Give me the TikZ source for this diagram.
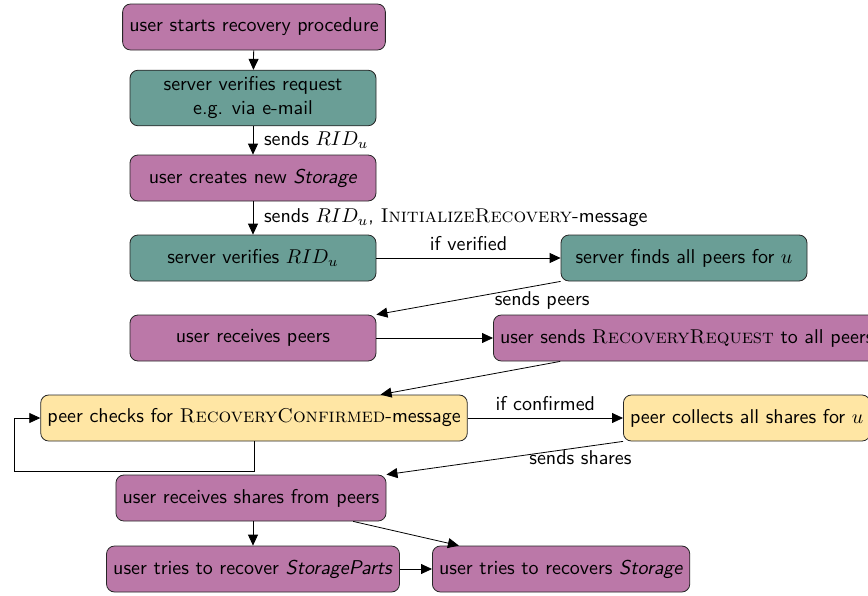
\documentclass[tikz,border=0pt]{standalone}
\usetikzlibrary{arrows.meta}
\definecolor{upurple}{RGB}{187,120,168}
\definecolor{uteal}{RGB}{106,158,150}
\definecolor{uyellow}{RGB}{255,230,164}
\tikzset{
  box/.style={draw=black!85, rounded corners=4pt, minimum width=123pt, minimum height=23pt,
    align=center, font=\sffamily, inner sep=3.33pt},
  ubox/.style={box, fill=upurple},
  sbox/.style={box, fill=uteal},
  pbox/.style={box, fill=uyellow},
  arr/.style={-{Triangle[length=5.5pt,width=5pt]}, draw=black},
  lbl/.style={font=\sffamily}
}
\begin{document}
\begin{tikzpicture}[x=0.5pt,y=-0.5pt]
\useasboundingbox (0,0) rectangle (868,595);
\node[ubox] (b1) at (254,27) {user starts recovery procedure};
\node[sbox] (b2) at (253,98) {server verifies request\\e.g. via e-mail};
\node[ubox] (b3) at (253,178) {user creates new \textit{Storage}};
\node[sbox] (b4) at (253,258) {server verifies $RID_u$};
\node[sbox] (b5) at (684,258) {server finds all peers for $u$};
\node[ubox] (b6) at (253,338) {user receives peers};
\node[ubox, anchor=west] (b7) at (493,338) {user sends {\rmfamily\scshape RecoveryRequest} to all peers};
\node[pbox] (b8) at (254,418) {peer checks for {\rmfamily\scshape RecoveryConfirmed}-message};
\node[pbox, anchor=west] (b9) at (623,418) {peer collects all shares for $u$};
\node[ubox] (b10) at (251,498) {user receives shares from peers};
\node[ubox] (b11) at (253,569) {user tries to recover \textit{StorageParts}};
\node[ubox, anchor=west] (b12) at (432,569) {user tries to recovers \textit{Storage}};
\coordinate (lp) at (14,471);

\draw[arr] (b1) -- (b2);
\draw[arr] (b2) -- node[lbl, right, xshift=2pt] {sends $RID_u$} (b3);
\draw[arr] (b3) -- node[lbl, right, xshift=2pt] {sends $RID_u$, {\rmfamily\scshape InitializeRecovery}-message} (b4);
\draw[arr] (b4) -- node[lbl, above] {if verified} (b5);
\draw[arr] (b5.south west) -- node[lbl, below, pos=0.1] {sends peers} (b6.north east);
\draw[arr] (b6) -- (b7);
\draw[arr] (b7) -- (b8);
\draw[arr] (b8) -- node[lbl, above] {if confirmed} (b9);
\draw[arr] (b8.south) |- (lp) |- (b8.west);
\draw[arr] (b9.south west) -- node[lbl, below, pos=0.18, yshift=2pt] {sends shares} (b10.north east);
\draw[arr] (b10.south -| b11) -- (b11.north);
\draw[arr] (b10) -- (b12);
\draw[arr] (b11) -- (b12);
\end{tikzpicture}
\end{document}
